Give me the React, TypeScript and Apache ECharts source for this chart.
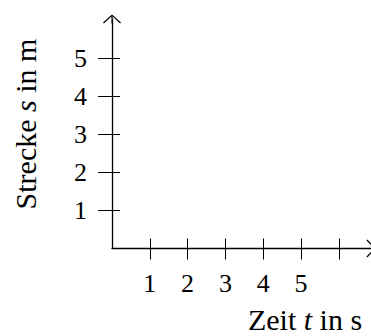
import React, { useEffect, useRef } from "react";
import * as echarts from "echarts";

const xTickValues = [1, 2, 3, 4, 5, 6];
const xLabelValues = [1, 2, 3, 4, 5];
const yTickValues = [1, 2, 3, 4, 5];
const yLabelValues = [1, 2, 3, 4, 5];
const xRange = [0, 6.85];
const yRange = [0, 6.03];
const xTitle = ["Zeit ", "t", " in s"];
const yTitle = ["Strecke ", "s", " in m"];

const FONT = "Liberation Serif";
const chevron =
  "path://M10,0 L20,9 L19,10 L10,1.6 L1,10 L0,9 Z M9.4,0.6 L10.6,0.6 L10.6,10 L9.4,10 Z";

export default function App() {
  const ref = useRef<HTMLDivElement>(null);
  useEffect(() => {
    if (!ref.current) return;
    const chart = echarts.init(ref.current, null, { renderer: "svg" });
    const labelStyle = { color: "#000", fontFamily: FONT, fontSize: 26 };
    const baseX = {
      type: "value",
      min: xRange[0],
      max: xRange[1],
      splitLine: { show: false },
      position: "bottom",
    };
    const baseY = {
      type: "value",
      min: yRange[0],
      max: yRange[1],
      splitLine: { show: false },
      position: "left",
    };
    const titleRich = {
      n: { fontFamily: FONT, fontSize: 30, fontStyle: "normal", fill: "#000" },
      i: { fontFamily: FONT, fontSize: 30, fontStyle: "italic", fill: "#000" },
    };
    chart.setOption({
      animation: false,
      grid: { left: 112, right: -1, top: 19, bottom: 87.5, containLabel: false },
      xAxis: [
        {
          ...baseX,
          axisLine: {
            show: true,
            symbol: ["none", chevron],
            symbolSize: [18, 9],
            lineStyle: { color: "#000", width: 1.3 },
          },
          axisTick: {
            show: true,
            length: 11,
            customValues: xTickValues,
            lineStyle: { color: "#000", width: 1 },
          },
          axisLabel: {
            show: true,
            margin: 22,
            customValues: xLabelValues,
            ...labelStyle,
          },
        },
        {
          ...baseX,
          axisLine: { show: false },
          axisTick: {
            show: true,
            inside: true,
            length: 10,
            customValues: xTickValues,
            lineStyle: { color: "#000", width: 1 },
          },
          axisLabel: { show: false },
        },
      ],
      yAxis: [
        {
          ...baseY,
          axisLine: {
            show: true,
            symbol: ["none", chevron],
            symbolSize: [18, 9],
            lineStyle: { color: "#000", width: 1.3 },
          },
          axisTick: {
            show: true,
            length: 14,
            customValues: yTickValues,
            lineStyle: { color: "#000", width: 1 },
          },
          axisLabel: {
            show: true,
            margin: 25,
            customValues: yLabelValues,
            ...labelStyle,
          },
        },
        {
          ...baseY,
          axisLine: { show: false },
          axisTick: {
            show: true,
            inside: true,
            length: 8,
            customValues: yTickValues,
            lineStyle: { color: "#000", width: 1 },
          },
          axisLabel: { show: false },
        },
      ],
      series: [
        { type: "line", data: [], xAxisIndex: 0, yAxisIndex: 0 },
      ],
      graphic: [
        {
          type: "text",
          x: 305,
          y: 319,
          style: {
            text: `{n|${xTitle[0]}}{i|${xTitle[1]}}{n|${xTitle[2]}}`,
            fontFamily: FONT,
            fontSize: 30,
            align: "center",
            verticalAlign: "middle",
            rich: titleRich,
          },
        },
        {
          type: "text",
          x: 25,
          y: 124,
          rotation: Math.PI / 2,
          style: {
            text: `{n|${yTitle[0]}}{i|${yTitle[1]}}{n|${yTitle[2]}}`,
            fontFamily: FONT,
            fontSize: 30,
            align: "center",
            verticalAlign: "middle",
            rich: titleRich,
          },
        },
      ],
    });
    return () => chart.dispose();
  }, []);
  return <div ref={ref} style={{ width: 371, height: 336, position: "absolute", left: 0, top: 0 }} />;
}
